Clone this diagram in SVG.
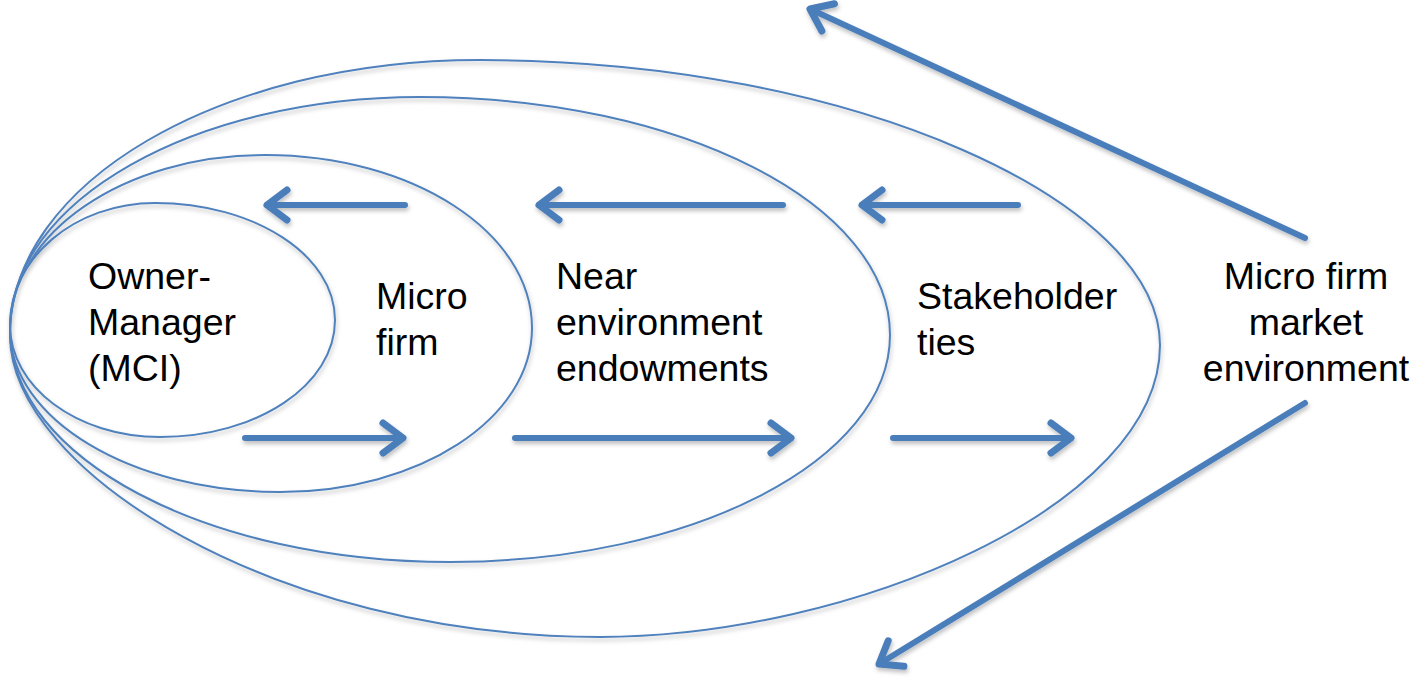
<svg xmlns="http://www.w3.org/2000/svg" width="1414" height="685" viewBox="0 0 1414 685">
<defs>
<style>
.ring{fill:none;stroke:#4F81BD;stroke-width:2;}
.arr{fill:none;stroke:#4A7EBB;stroke-width:6;stroke-linecap:round;marker-end:url(#head);}
.lbl{font-family:"Liberation Sans",Arial,sans-serif;font-size:37.5px;fill:#000;}
</style>
<filter id="sh" x="-10%" y="-10%" width="120%" height="130%">
<feDropShadow dx="1" dy="3" stdDeviation="2" flood-color="#000" flood-opacity="0.25"/>
</filter>
<marker id="head" markerUnits="userSpaceOnUse" markerWidth="60" markerHeight="60" refX="0" refY="0" viewBox="-30 -30 60 60" orient="auto" overflow="visible">
<path d="M -20,-15 L 0,0 L -20,15" fill="none" stroke="#4A7EBB" stroke-width="7" stroke-linecap="round" stroke-linejoin="round"/>
</marker>
</defs>
<rect width="1414" height="685" fill="#fff"/>
<g id="rings" filter="url(#sh)">
<g id="node-owner"><path class="ring" d="M10,325 C10,258 75,203 155,203 C254,203 335,255 335,320 C335,385 257,437 160,437 C77,437 10,387 10,325 Z"/></g>
<g id="node-microfirm"><path class="ring" d="M10,330 C10,233 124,155 265,155 C412,155 532,232 532,328 C532,419 419,492 280,492 C131,492 10,419 10,330 Z"/></g>
<g id="node-near"><path class="ring" d="M10,330 C10,201 194,97 420,97 C680,97 890,204 890,335 C890,460 693,562 450,562 C207,562 10,458 10,330 Z"/></g>
<g id="node-stakeholder"><path class="ring" d="M10,335 C10,183 220,60 480,60 C856,60 1160,203 1160,345 C1160,506 851,637 600,637 C274,637 10,470 10,335 Z"/></g>
</g>
<g id="connectors" filter="url(#sh)">
<line class="arr" x1="405" y1="205" x2="267" y2="205"/>
<line class="arr" x1="783" y1="205" x2="539" y2="205"/>
<line class="arr" x1="1018" y1="205" x2="862" y2="205"/>
<line class="arr" x1="245" y1="438" x2="403" y2="438"/>
<line class="arr" x1="515" y1="438" x2="791" y2="438"/>
<line class="arr" x1="893" y1="438" x2="1071" y2="438"/>
<line class="arr" x1="1305" y1="238" x2="810" y2="9"/>
<line class="arr" x1="1305" y1="403" x2="879" y2="664"/>
</g>
<g id="labels">
<g id="label-owner"><text class="lbl" x="88" y="289">Owner-</text><text class="lbl" x="88" y="335">Manager</text><text class="lbl" x="88" y="381">(MCI)</text></g>
<g id="label-microfirm"><text class="lbl" x="376" y="309">Micro</text><text class="lbl" x="376" y="355">firm</text></g>
<g id="label-near"><text class="lbl" x="556" y="289">Near</text><text class="lbl" x="556" y="335">environment</text><text class="lbl" x="556" y="381">endowments</text></g>
<g id="label-stakeholder"><text class="lbl" x="917" y="309">Stakeholder</text><text class="lbl" x="917" y="355">ties</text></g>
<g id="node-market" text-anchor="middle"><text class="lbl" x="1306" y="289">Micro firm</text><text class="lbl" x="1306" y="335">market</text><text class="lbl" x="1306" y="381">environment</text></g>
</g>
</svg>
